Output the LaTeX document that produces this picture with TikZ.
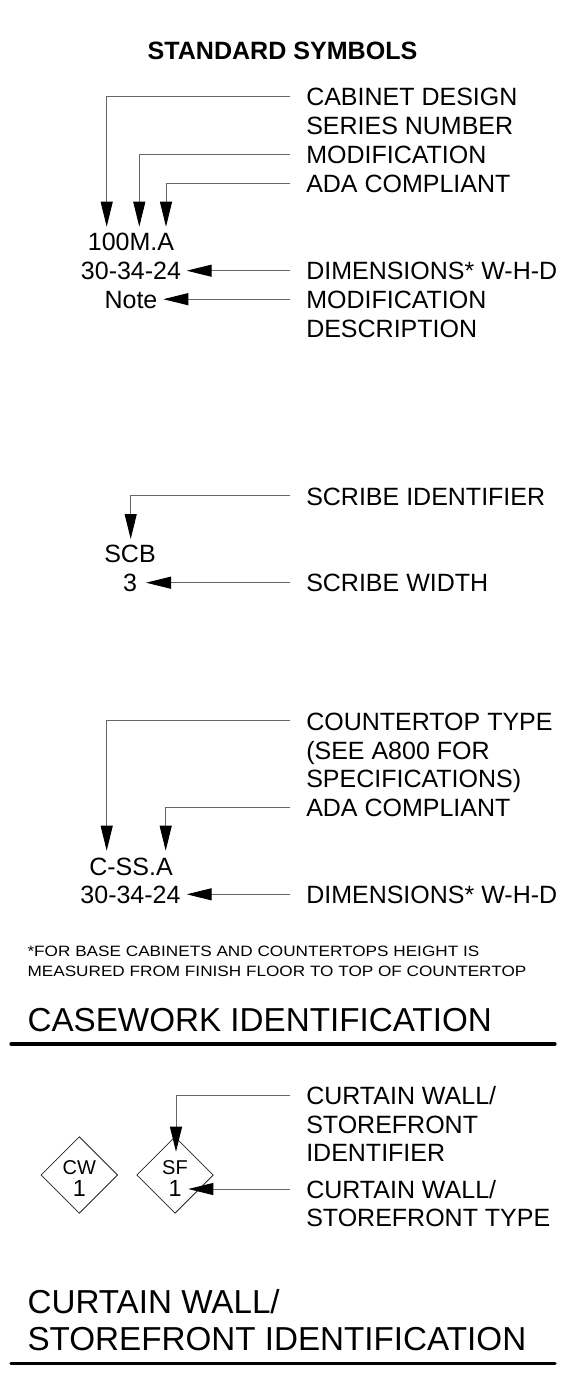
\documentclass[tikz,border=0pt]{standalone}
\usepackage{fontspec}
\setmainfont{Liberation Sans}
\newfontfamily\footfnt[FakeStretch=1.145]{Liberation Sans}
\usetikzlibrary{arrows.meta,shapes.geometric}
\newcommand{\lblf}{\fontsize{18.75}{22}\selectfont}
\newcommand{\ttlf}{\fontsize{24.9}{28}\selectfont}
\newcommand{\hdrf}{\fontsize{18.8}{22}\selectfont\bfseries}
\newcommand{\ftf}{\footfnt\fontsize{11.25}{13}\selectfont}
\begin{document}
\begin{tikzpicture}[x=0.75pt,y=-0.75pt,
  lbl/.style={anchor=base west,inner sep=0pt,font=\lblf},
  cl/.style={anchor=base,inner sep=0pt,font=\lblf},
  ttl/.style={anchor=base west,inner sep=0pt,font=\ttlf},
  hdr/.style={anchor=base,inner sep=0pt,font=\hdrf},
  foot/.style={anchor=base west,inner sep=0pt,font=\ftf},
  lead/.style={draw=black!60,line width=0.75pt,
    -{Triangle[length=18.75pt,width=9pt,color=black]}},
  rule/.style={line width=2.5pt,line cap=round},
  dmd/.style={diamond,draw=black!85,line width=0.6pt,inner sep=0pt,
    minimum width=57.5pt,minimum height=57.5pt},
  dtop/.style={anchor=base,inner sep=0pt,font=\fontsize{15}{17}\selectfont},
  dbot/.style={anchor=base,inner sep=0pt,font=\fontsize{17.5}{20}\selectfont}]
\useasboundingbox[fill=white] (0,0) rectangle (563,1383);

% ---------- header ----------
\node[hdr] (hdr) at (282.5,59.3) {STANDARD SYMBOLS};

% ---------- cabinet ----------
\node[lbl] (l1a) at (306,106) {CABINET DESIGN};
\node[lbl] (l1b) at (306,134.9) {SERIES NUMBER};
\node[lbl] (l2) at (306,163.8) {MODIFICATION};
\node[lbl] (l3) at (306,192.7) {ADA COMPLIANT};
\node[lbl] (l4) at (306,280) {DIMENSIONS* W-H-D};
\node[lbl] (l5a) at (306,308.5) {MODIFICATION};
\node[lbl] (l5b) at (306,337.1) {DESCRIPTION};
\node[cl] (t1) at (131,250.7) {100M.A};
\node[cl] (t2) at (131,280) {30-34-24};
\node[cl] (t3) at (131,308.5) {Note};

\coordinate (s1) at (290,96.7);  \coordinate (e1) at (106.7,226.7);
\coordinate (s2) at (290,154.8); \coordinate (e2) at (139.3,226.7);
\coordinate (s3) at (290,183.4); \coordinate (e3) at (166,226.7);
\coordinate (s4) at (290,270.7); \coordinate (e4) at (186.7,270.7);
\coordinate (s5) at (290,299.2); \coordinate (e5) at (163.3,299.2);
\draw[lead] (s1) -| (e1);
\draw[lead] (s2) -| (e2);
\draw[lead] (s3) -| (e3);
\draw[lead] (s4) -- (e4);
\draw[lead] (s5) -- (e5);

% ---------- scribe ----------
\node[lbl] (m1) at (306,505) {SCRIBE IDENTIFIER};
\node[lbl] (m2) at (306,591.7) {SCRIBE WIDTH};
\node[cl] (u1) at (130,562.3) {SCB};
\node[cl] (u2) at (130,591.7) {3};
\coordinate (s6) at (290,495.7); \coordinate (e6) at (130.7,539);
\coordinate (s7) at (290,582.7); \coordinate (e7) at (146,582.7);
\draw[lead] (s6) -| (e6);
\draw[lead] (s7) -- (e7);

% ---------- countertop ----------
\node[lbl] (k1a) at (306,730) {COUNTERTOP TYPE};
\node[lbl] (k1b) at (306,759) {(SEE A800 FOR};
\node[lbl] (k1c) at (306,787.7) {SPECIFICATIONS)};
\node[lbl] (k2) at (306,816.7) {ADA COMPLIANT};
\node[lbl] (k3) at (306,903.5) {DIMENSIONS* W-H-D};
\node[cl] (v1) at (131,875) {C-SS.A};
\node[cl] (v2) at (130.5,903.5) {30-34-24};
\coordinate (s8) at (290,720.7);  \coordinate (e8) at (106.7,850.7);
\coordinate (s9) at (290,807.7);  \coordinate (e9) at (165.7,850.7);
\coordinate (s10) at (290,894.3); \coordinate (e10) at (186.7,894.3);
\draw[lead] (s8) -| (e8);
\draw[lead] (s9) -| (e9);
\draw[lead] (s10) -- (e10);

% ---------- footnote + title ----------
\node[foot] (f1) at (27.3,956.7) {*FOR BASE CABINETS AND COUNTERTOPS HEIGHT IS};
\node[foot] (f2) at (27.3,976.5) {MEASURED FROM FINISH FLOOR TO TOP OF COUNTERTOP};
\node[ttl] (h1) at (27.3,1031.7) {CASEWORK IDENTIFICATION};
\coordinate (r1a) at (11,1044); \coordinate (r1b) at (555,1044);
\draw[rule] (r1a) -- (r1b);

% ---------- curtain wall ----------
\node[lbl] (w1a) at (306,1104) {CURTAIN WALL/};
\node[lbl] (w1b) at (306,1133.3) {STOREFRONT};
\node[lbl] (w1c) at (306,1161.7) {IDENTIFIER};
\node[lbl] (w2a) at (306,1198.3) {CURTAIN WALL/};
\node[lbl] (w2b) at (306,1226.7) {STOREFRONT TYPE};
\node[dmd] (cw) at (79.3,1175) {};
\node[dmd] (sf) at (175,1175) {};
\node[dtop] (cwt) at (79.3,1174) {CW};
\node[dbot] (cwb) at (79.3,1196.7) {1};
\node[dtop] (sft) at (175,1174) {SF};
\node[dbot] (sfb) at (175,1196.7) {1};
\coordinate (s11) at (290,1095); \coordinate (e11) at (176,1151.7);
\coordinate (s12) at (290,1189); \coordinate (e12) at (188.3,1189);
\draw[lead] (s11) -| (e11);
\draw[lead] (s12) -- (e12);

\node[ttl] (h2a) at (27.3,1313.3) {CURTAIN WALL/};
\node[ttl] (h2b) at (27.3,1350) {STOREFRONT IDENTIFICATION};
\coordinate (r2a) at (11,1363.3); \coordinate (r2b) at (555,1363.3);
\draw[rule] (r2a) -- (r2b);
\end{tikzpicture}
\end{document}
